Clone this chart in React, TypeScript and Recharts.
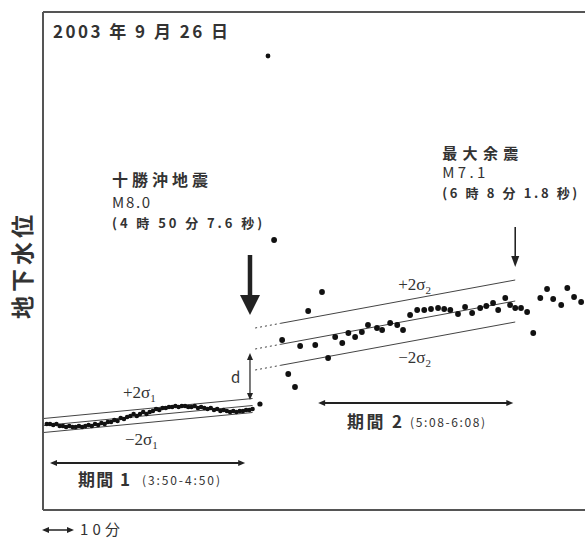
import { ComposedChart, Scatter, XAxis, YAxis, ReferenceLine, ReferenceDot } from "recharts";

const CJK = '"Noto Sans CJK JP", "Noto Sans", sans-serif';
const SERIF = '"Liberation Serif", "DejaVu Serif", serif';
const INK = "#333";

// x = minutes after 3:50, y = water level (arbitrary units)
const p1Min = [
  -1, 0, 1, 2, 3, 4, 5, 6, 7, 8, 9, 10, 11, 12, 13, 14, 15, 16, 17, 18, 19, 20, 21, 22,
  23, 24, 25, 26, 27, 28, 29, 30, 31, 32, 33, 34, 35, 36, 37, 38, 39, 40, 41, 42, 43, 44,
  45, 46, 47, 48, 49, 50, 51, 52, 53, 54, 55, 56, 57, 58, 59, 60, 61, 62, 63,
];
const p1Level = [
  8.6, 8.6, 8.5, 8.6, 8.4, 8.4, 8.3, 8.4, 8.3, 8.3, 8.4, 8.3, 8.4, 8.5, 8.4, 8.6, 8.5, 8.7,
  8.6, 8.8, 8.8, 9.0, 8.9, 9.2, 9.1, 9.3, 9.4, 9.6, 9.4, 9.6, 9.8, 9.6, 9.8, 9.9, 10.1, 10.0,
  10.2, 10.2, 10.3, 10.3, 10.4, 10.3, 10.4, 10.4, 10.3, 10.3, 10.4, 10.2, 10.3, 10.2, 10.1,
  10.2, 10.0, 10.1, 9.9, 10.0, 9.9, 9.8, 9.9, 9.8, 9.9, 9.9, 10.0, 10.0, 10.1,
];
const jumpMin = [65.3];
const jumpLevel = [10.6];

const p2Min = [
  69.7, 72.2, 74.1, 76.2, 77.8, 80.3, 82.5, 84.6, 86.5, 88.7, 90.9, 92.8, 94.9, 97.0, 98.9,
  101.7, 103.3, 105.8, 108.0, 109.8, 112.0, 114.2, 116.4, 118.5, 120.7, 122.6, 124.5, 126.9,
  129.1, 131.3, 133.8, 135.7, 137.8, 139.4, 141.6, 143.1, 144.7, 146.5, 148.4, 150.3, 152.5,
  154.6, 156.5, 159.0, 160.9, 163.0, 165.2,
];
const p2Level = [
  27.0, 17.0, 13.6, 12.3, 16.4, 19.9, 16.5, 21.8, 15.2, 17.3, 16.7, 17.7, 17.3, 17.8, 18.5,
  18.2, 18.0, 18.7, 18.5, 18.0, 19.5, 20.0, 20.0, 20.1, 20.2, 20.1, 20.0, 19.6, 20.3, 19.7,
  20.2, 20.4, 20.7, 20.0, 21.2, 20.5, 20.2, 20.2, 19.8, 17.7, 21.2, 22.1, 21.1, 20.5, 22.2,
  21.3, 20.8,
];
const outlierMin = [67.8];
const outlierLevel = [45.4];

const tickMin = [7.2, 17.2, 27.2, 37.2, 47.2, 57.2, 67.2, 77.2, 87.2, 97.2, 107.2, 117.2, 127.2, 137.2, 147.2, 157.2, 167.2];

// regression lines: [start, end] with the ±2σ half-width
const fit1Min = [-2, 63];
const fit1Level = [8.45, 10.45];
const sigma1 = 0.7;
const fit2Min = [63.8, 71.6, 144.7]; // dotted up to the 2nd point
const fit2Level = [16.1, 16.56, 20.9];
const sigma2 = 2.1;

const X_DOMAIN: [number, number] = [-2.18, 172];
const Y_MAX = 49.8;

const zip = (xs: number[], ys: number[]) => xs.map((t, i) => ({ t, v: ys[i] }));

const dot = (r: number) => (p: any) => <circle cx={p.cx} cy={p.cy} r={r} fill="#111" />;

function arrow(head: number, half: number, width: number, both = false) {
  return (p: any) => {
    const { x1, y1, x2, y2 } = p;
    const len = Math.hypot(x2 - x1, y2 - y1) || 1;
    const ux = (x2 - x1) / len;
    const uy = (y2 - y1) / len;
    const nx = -uy;
    const ny = ux;
    const tri = (tx: number, ty: number, sx: number, sy: number) =>
      `${tx},${ty} ${tx - sx * head + nx * half},${ty - sy * head + ny * half} ${tx - sx * head - nx * half},${ty - sy * head - ny * half}`;
    const sx = both ? x1 + ux * head * 0.8 : x1;
    const sy = both ? y1 + uy * head * 0.8 : y1;
    return (
      <g>
        <line x1={sx} y1={sy} x2={x2 - ux * head * 0.8} y2={y2 - uy * head * 0.8} stroke="#222" strokeWidth={width} />
        <polygon points={tri(x2, y2, ux, uy)} fill="#222" />
        {both && <polygon points={tri(x1, y1, -ux, -uy)} fill="#222" />}
      </g>
    );
  };
}

function note(text: string, size: number, opts: { len?: number; weight?: number; font?: string } = {}) {
  return (p: any) => (
    <text
      x={p.cx}
      y={p.cy}
      fontFamily={opts.font ?? CJK}
      fontSize={size}
      fontWeight={opts.weight ?? 700}
      fill={INK}
      textLength={opts.len}
      lengthAdjust="spacing"
    >
      {text}
    </text>
  );
}

function sigmaNote(sign: string, sub: string) {
  return (p: any) => (
    <text x={p.cx} y={p.cy} fontFamily={SERIF} fontSize={17} fill={INK}>
      {sign}2σ
      <tspan dy={4} fontSize={11}>
        {sub}
      </tspan>
    </text>
  );
}

export default function App() {
  const line = (x1: number, y1: number, x2: number, y2: number, dashed = false, key?: string) => (
    <ReferenceLine
      key={key}
      segment={[
        { x: x1, y: y1 },
        { x: x2, y: y2 },
      ]}
      stroke="#444"
      strokeWidth={1}
      strokeDasharray={dashed ? "2 3" : undefined}
      ifOverflow="visible"
    />
  );
  const fit2 = (off: number, key: string) => [
    line(fit2Min[0], fit2Level[0] + off, fit2Min[1], fit2Level[1] + off, true, key + "a"),
    line(fit2Min[1], fit2Level[1] + off, fit2Min[2], fit2Level[2] + off, false, key + "b"),
  ];

  return (
    <div style={{ position: "absolute", left: 0, top: 0, width: 585, height: 538, overflow: "hidden", background: "#fff" }}>
      <ComposedChart width={620} height={538} margin={{ top: 12, right: 17, bottom: 27, left: 42 }}>
        <XAxis
          dataKey="t"
          type="number"
          domain={X_DOMAIN}
          ticks={tickMin}
          tick={false}
          tickSize={3}
          height={1}
          axisLine={{ stroke: "#555", strokeWidth: 2 }}
          tickLine={{ stroke: "#444", strokeWidth: 1.5 }}
          allowDataOverflow
        />
        <YAxis
          dataKey="v"
          type="number"
          domain={[0, Y_MAX]}
          width={1}
          tick={false}
          tickLine={false}
          axisLine={{ stroke: "#555", strokeWidth: 2 }}
          allowDataOverflow
        />
        <ReferenceLine y={Y_MAX} stroke="#555" strokeWidth={2} />

        {line(fit1Min[0], fit1Level[0], fit1Min[1], fit1Level[1])}
        {line(fit1Min[0], fit1Level[0] + sigma1, fit1Min[1], fit1Level[1] + sigma1)}
        {line(fit1Min[0], fit1Level[0] - sigma1, fit1Min[1], fit1Level[1] - sigma1)}
        {fit2(0, "c")}
        {fit2(sigma2, "u")}
        {fit2(-sigma2, "l")}

        <Scatter data={zip(p1Min, p1Level)} shape={dot(2.3)} isAnimationActive={false} />
        <Scatter data={zip(jumpMin, jumpLevel)} shape={dot(2.6)} isAnimationActive={false} />
        <Scatter data={zip(p2Min, p2Level)} shape={dot(2.9)} isAnimationActive={false} />
        <Scatter data={zip(outlierMin, outlierLevel)} shape={dot(2.4)} isAnimationActive={false} />

        {/* earthquake, aftershock, offset d, periods */}
        <ReferenceLine segment={[{ x: 62.2, y: 25.5 }, { x: 62.2, y: 19.5 }]} shape={arrow(20, 10, 4.5)} />
        <ReferenceLine segment={[{ x: 144.7, y: 28.3 }, { x: 144.7, y: 24.3 }]} shape={arrow(11, 4, 1.6)} />
        <ReferenceLine segment={[{ x: 62.2, y: 11.0 }, { x: 62.2, y: 15.7 }]} shape={arrow(7, 3, 1.2, true)} />
        <ReferenceLine segment={[{ x: 0, y: 4.7 }, { x: 60.7, y: 4.7 }]} shape={arrow(7, 3, 1.8, true)} />
        <ReferenceLine segment={[{ x: 83.4, y: 10.7 }, { x: 144.1, y: 10.7 }]} shape={arrow(7, 3, 1.8, true)} />

        <ReferenceDot x={0.93} y={47.2} shape={note("2003 年 9 月 26 日", 17, { len: 175 })} />
        <ReferenceDot x={19.3} y={32.4} shape={note("十勝沖地震", 16, { len: 96 })} />
        <ReferenceDot x={19.3} y={30.2} shape={note("M8.0", 15, { len: 38, weight: 400 })} />
        <ReferenceDot x={19.3} y={28.2} shape={note("(4 時 50 分 7.6 秒)", 13, { len: 150 })} />
        <ReferenceDot x={122.0} y={35.1} shape={note("最大余震", 15, { len: 76 })} />
        <ReferenceDot x={122.0} y={33.2} shape={note("M7.1", 15, { len: 43, weight: 400 })} />
        <ReferenceDot x={122.0} y={31.2} shape={note("(6 時 8 分 1.8 秒)", 13, { len: 135 })} />
        <ReferenceDot x={22.7} y={11.2} shape={sigmaNote("+", "1")} />
        <ReferenceDot x={23.3} y={6.5} shape={sigmaNote("−", "1")} />
        <ReferenceDot x={108.3} y={22.0} shape={sigmaNote("+", "2")} />
        <ReferenceDot x={108.3} y={14.7} shape={sigmaNote("−", "2")} />
        <ReferenceDot x={56.3} y={12.7} shape={note("d", 15, { weight: 400 })} />
        <ReferenceDot x={8.7} y={2.4} shape={note("期間 1", 17, { len: 52 })} />
        <ReferenceDot x={28.6} y={2.5} shape={note("(3:50-4:50)", 12, { len: 78, weight: 400 })} />
        <ReferenceDot x={92.4} y={8.2} shape={note("期間 2", 17, { len: 55 })} />
        <ReferenceDot x={112.0} y={8.3} shape={note("(5:08-6:08)", 12, { len: 75, weight: 400 })} />
      </ComposedChart>

      <div
        style={{
          position: "absolute",
          left: 21,
          top: 265,
          transform: "translate(-50%, -50%) rotate(-90deg)",
          fontFamily: CJK,
          fontWeight: 700,
          fontSize: 23,
          letterSpacing: 4,
          color: INK,
          whiteSpace: "nowrap",
        }}
      >
        地下水位
      </div>
      <svg style={{ position: "absolute", left: 0, top: 518 }} width={140} height={20}>
        <line x1={47} y1={12} x2={69} y2={12} stroke="#222" strokeWidth={1.5} />
        <polygon points="42,12 49,9 49,15" fill="#222" />
        <polygon points="74,12 67,9 67,15" fill="#222" />
        <text x={80} y={17} fontFamily={CJK} fontSize={15} fill={INK} textLength={40} lengthAdjust="spacing">
          10分
        </text>
      </svg>
    </div>
  );
}
